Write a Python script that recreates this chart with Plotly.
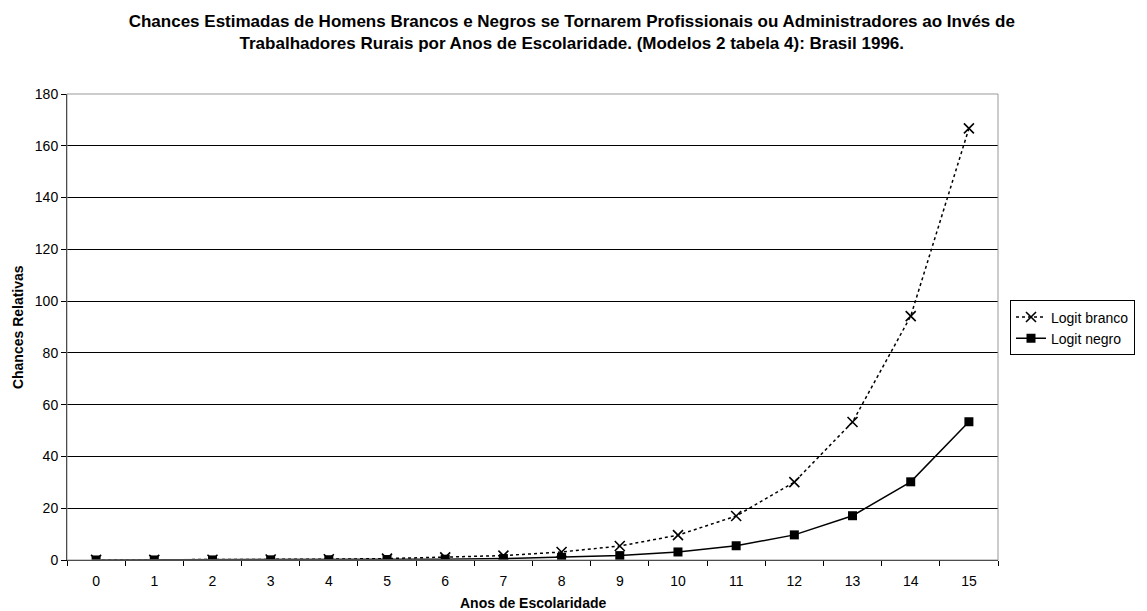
import plotly.graph_objects as go

anos = [str(i) for i in range(16)]
logit_branco = [0.03, 0.06, 0.1, 0.18, 0.31, 0.55, 1.0, 1.7, 3.1, 5.4, 9.6, 17.0, 30.1, 53.3, 94.2, 166.7]
logit_negro = [0.01, 0.02, 0.03, 0.06, 0.1, 0.18, 0.31, 0.55, 1.0, 1.7, 3.1, 5.5, 9.7, 17.1, 30.2, 53.4]

title_text = (
    "<b>Chances Estimadas de Homens Brancos e Negros se Tornarem Profissionais ou Administradores ao Invés de"
    "<br>Trabalhadores Rurais por Anos de Escolaridade. (Modelos 2 tabela 4): Brasil 1996.</b>"
)

fig = go.Figure()
fig.add_trace(
    go.Scatter(
        x=anos,
        y=logit_branco,
        name="Logit branco",
        mode="lines+markers",
        line=dict(color="black", width=1.5, dash="dot"),
        marker=dict(symbol="x-thin", size=10, line=dict(color="black", width=1.6)),
    )
)
fig.add_trace(
    go.Scatter(
        x=anos,
        y=logit_negro,
        name="Logit negro",
        mode="lines+markers",
        line=dict(color="black", width=1.5),
        marker=dict(symbol="square", size=9, color="black"),
    )
)

# gray frame around the plot area (top and right show gray in the original)
fig.add_shape(
    type="rect", xref="x domain", yref="y domain", x0=0, x1=1, y0=0, y1=1,
    line=dict(color="#999999", width=1), layer="above",
)

# axis titles placed as annotations for exact positioning
fig.add_annotation(
    text="<b>Anos de Escolaridade</b>", xref="paper", yref="paper",
    x=0.5, y=-0.092, xanchor="center", yanchor="middle",
    showarrow=False, font=dict(size=14),
)
fig.add_annotation(
    text="<b>Chances Relativas</b>", xref="paper", yref="paper",
    x=-0.0525, y=0.5, xanchor="center", yanchor="middle", textangle=-90,
    showarrow=False, font=dict(size=14),
)

# page body has an 8px default margin, so the figure is sized 8px smaller
fig.update_layout(
    width=1139,
    height=603,
    margin=dict(l=59, r=147, t=86, b=51),
    paper_bgcolor="white",
    plot_bgcolor="white",
    font=dict(family="Liberation Sans, Arial", size=14, color="black"),
    title=dict(
        text=title_text,
        x=0.495,
        xanchor="center",
        y=0.968,
        yanchor="top",
        font=dict(size=17),
    ),
    showlegend=True,
    legend=dict(
        x=1.0129,
        xanchor="left",
        y=0.498,
        yanchor="middle",
        bordercolor="black",
        borderwidth=1,
        bgcolor="white",
        font=dict(size=14),
        tracegroupgap=0,
        itemwidth=30,
    ),
    xaxis=dict(
        type="category",
        range=[-0.5, 15.5],
        showline=True,
        linecolor="black",
        linewidth=1,
        ticks="outside",
        tickson="boundaries",
        ticklen=5,
        tickcolor="black",
        ticklabelstandoff=8,
        showgrid=False,
        automargin=False,
    ),
    yaxis=dict(
        range=[0, 180],
        dtick=20,
        showline=True,
        linecolor="black",
        linewidth=1,
        ticks="outside",
        ticklen=5,
        tickcolor="black",
        showgrid=True,
        gridcolor="black",
        gridwidth=1,
        zeroline=False,
        automargin=False,
    ),
)

fig.write_html("out.html")
